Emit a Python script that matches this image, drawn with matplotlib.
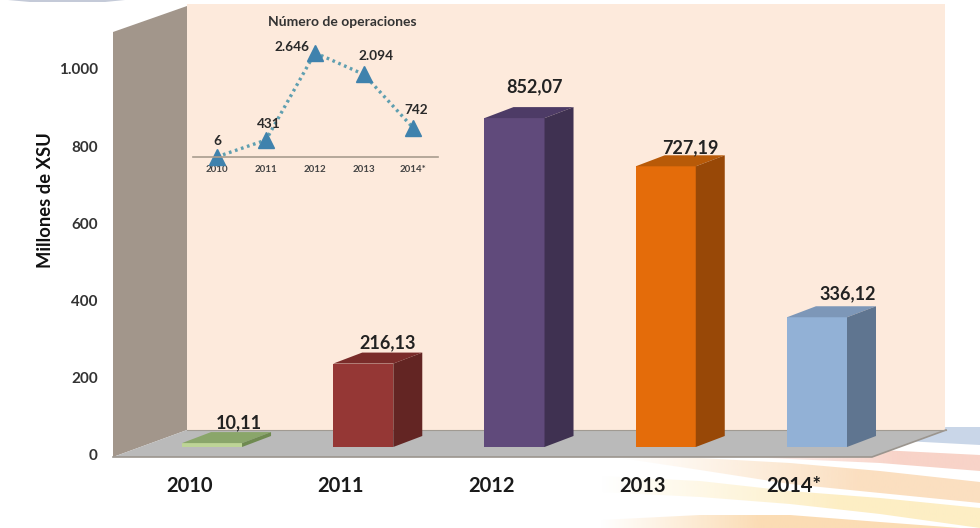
import numpy as np
import matplotlib
matplotlib.use('Agg')
import matplotlib.pyplot as plt
from matplotlib.patches import Polygon

plt.rcParams['font.family'] = ['Lato', 'DejaVu Sans']
plt.rcParams['font.weight'] = 'bold'
plt.rcParams['axes.labelweight'] = 'bold'
plt.rcParams['axes.titleweight'] = 'bold'

years = ['2010', '2011', '2012', '2013', '2014*']
volumes = [10.11, 216.13, 852.07, 727.19, 336.12]
volume_labels = ['10,11', '216,13', '852,07', '727,19', '336,12']
operations = [6, 431, 2646, 2094, 742]
operation_labels = ['6', '431', '2.646', '2.094', '742']
y_ticks = [0, 200, 400, 600, 800, 1000]
y_tick_labels = ['0', '200', '400', '600', '800', '1.000']

front_colors = ['#bdd496', '#953735', '#604a7b', '#e46c0a', '#92b1d6']
top_colors = ['#8aa66a', '#7a2c2a', '#4d3b66', '#b85a08', '#7d97b8']
side_colors = ['#6f8a50', '#632523', '#3f3151', '#984807', '#5f7590']

W, H = 980, 528
fig = plt.figure(figsize=(W / 100, H / 100), dpi=100, facecolor='white')


def axes_px(left, right, top, bottom, zorder):
    # axes placed by pixel edges, y counted from the top
    ax = fig.add_axes([left / W, 1 - bottom / H, (right - left) / W, (bottom - top) / H], zorder=zorder)
    ax.patch.set_alpha(0)
    return ax


def band(ax, xs, upper, lower, color, x0, x1):
    # pale ribbon that fades out towards the left, full colour from x1 on
    pts = list(zip(xs, upper)) + list(zip(xs[::-1], lower[::-1]))
    patch = Polygon(pts, closed=True, fc='none', ec='none')
    ax.add_patch(patch)
    rgba = np.ones((1, 256, 4))
    rgba[..., :3] = matplotlib.colors.to_rgb(color)
    rgba[..., 3] = np.clip((np.linspace(x0, W, 256) - x0) / (x1 - x0), 0, 1)
    im = ax.imshow(rgba, extent=(x0, W, H, 0), aspect='auto', zorder=1)
    im.set_clip_path(patch)


# room: wavy ribbons, back wall, side wall and floor
bg = fig.add_axes([0, 0, 1, 1], zorder=0)
bg.axis('off')
band(bg, [700, 790, 880, 980], [455, 456, 450, 455], [455, 459, 463, 471], '#f8d3c8', 700, 900)
band(bg, [620, 700, 790, 880, 980], [456, 458, 463, 471, 482], [458, 470, 484, 493, 503], '#fbdfc0', 620, 860)
band(bg, [600, 700, 790, 880, 980], [476, 481, 491, 498, 508], [492, 497, 504, 514, 528], '#fdeec4', 600, 840)
band(bg, [600, 700, 790, 880, 960, 980], [520, 515, 515, 522, 528, 528], [528, 528, 528, 528, 528, 528], '#fbdcb4', 600, 760)
bg.add_patch(Polygon([(905, 441), (946, 427), (980, 427), (980, 445)], fc='#c9d6e8', ec='none', zorder=1))
bg.add_patch(Polygon([(8, 0), (125, 0), (105, 2), (30, 2)], fc='#c4cad8', ec='none', zorder=1))
bg.add_patch(Polygon([(187, 4), (945, 4), (945, 430), (187, 430)], fc='#fdeadc', ec='none', zorder=2))
bg.add_patch(Polygon([(113, 32), (187, 6), (187, 430), (113, 457)], fc='#a2968b', ec='none', zorder=3))
bg.add_patch(Polygon([(113, 457), (187, 430), (946, 430), (872, 457)], fc='#bababa', ec='none', zorder=3))
bg.plot([113, 872, 946], [457, 457, 430], color='#9b958e', lw=1.2, zorder=4)
bg.plot([187, 946], [430, 430], color='#a09a92', lw=0.8, zorder=4)
bg.set_xlim(0, W)
bg.set_ylim(H, 0)

# axis scale and labels
scale = axes_px(113, 872, 69, 455, 1)
scale.set_ylim(0, 1000)
scale.set_xlim((113 - 189) / 151.25, (872 - 189) / 151.25)
for s in scale.spines.values():
    s.set_visible(False)
scale.set_yticks(y_ticks)
scale.set_yticklabels(y_tick_labels, fontsize=11, color='#333333')
scale.set_xticks(range(len(years)))
scale.set_xticklabels(years, fontsize=14.5, color='#1a1a1a')
scale.tick_params(axis='y', length=0, pad=11)
scale.tick_params(axis='x', length=0, pad=15)
scale.set_ylabel('Millones de XSU', fontsize=13.2, color='#111111')
scale.yaxis.set_label_coords(-0.078, 0.66)

# bars, the plot floor sits at pixel 447
ax = axes_px(136.4, 892.6, 61, 447, 2)
ax.set_xlim(-0.5, 4.5)
ax.set_ylim(0, 1000)
ax.axis('off')
bar_w = 0.397
dx = 29 / 151.25
dy = 11 / 0.386
ax.bar(range(len(volumes)), volumes, width=bar_w, color=front_colors, zorder=3)
label_shift = [(27, 20), (24, 21), (20, 31), (25, 19), (31, 24)]
for i, v in enumerate(volumes):
    l, r = i - bar_w / 2, i + bar_w / 2
    ax.add_patch(Polygon([(l, v), (r, v), (r + dx, v + dy), (l + dx, v + dy)], fc=top_colors[i], ec='none', zorder=3, clip_on=False))
    ax.add_patch(Polygon([(r, 0), (r + dx, dy), (r + dx, v + dy), (r, v)], fc=side_colors[i], ec='none', zorder=3, clip_on=False))
    ax.annotate(volume_labels[i], (i, v), xytext=label_shift[i], textcoords='offset pixels',
                ha='center', va='center', fontsize=13, color='#222222', zorder=5)

# small chart with the number of operations
ins = axes_px(192.5, 437.5, 39, 157, 3)
ins.set_xlim(-0.5, 4.5)
ins.set_ylim(0, 2995)
ins.plot(range(len(operations)), operations, ls=(0, (0.8, 1.1)), color='#5f9fb0', lw=2.4,
         marker='^', ms=11, mfc='#3f82ad', mec='#3f82ad', clip_on=False)
for s in ['top', 'left', 'right']:
    ins.spines[s].set_visible(False)
ins.spines['bottom'].set_color('#a89c8e')
ins.spines['bottom'].set_linewidth(1.2)
ins.set_yticks([])
ins.set_xticks(range(len(years)))
ins.set_xticklabels(years, fontsize=7, color='#444444')
ins.tick_params(axis='x', length=0, pad=6)
ins.set_title('Número de operaciones', fontsize=10, color='#333333', x=(342 - 192.5) / 245, pad=9)
op_shift = [(0, 16), (3, 16), (-23, 6), (12, 18), (3, 18)]
for i, n in enumerate(operations):
    ins.annotate(operation_labels[i], (i, n), xytext=op_shift[i], textcoords='offset pixels',
                 ha='center', va='center', fontsize=9.8, color='#2a2a2a')

fig.savefig('out.png', dpi=100)
